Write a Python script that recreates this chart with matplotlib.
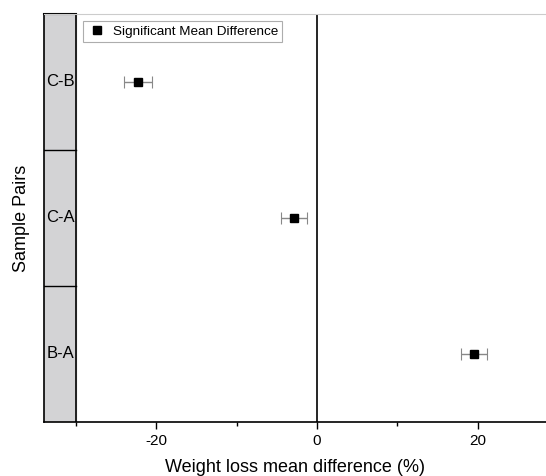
import numpy as np
import matplotlib.pyplot as plt
from matplotlib.ticker import FixedLocator

plt.rcParams['font.family'] = ['Liberation Sans', 'DejaVu Sans']
plt.rcParams['axes.unicode_minus'] = False

# pairs from bottom to top
pairs = ['B-A', 'C-A', 'C-B']
mean_diff = [19.5, -2.9, -22.3]
err = [1.6, 1.6, 1.7]

fig = plt.figure(figsize=(5.46, 4.76), dpi=100)
ax = fig.add_axes([44 / 546, 54 / 476, 1 - 44 / 546, 408 / 476])

ypos = np.arange(len(pairs)) + 0.5
ax.errorbar(mean_diff, ypos, xerr=err, fmt='none', ecolor='#888888',
            elinewidth=1, capsize=4, capthick=0.8, zorder=3)
ax.plot(mean_diff, ypos, 's', color='black', markersize=6, zorder=4,
        label='Significant Mean Difference')

ax.set_xlim(-34, 28.5)
ax.set_ylim(0, len(pairs))

# gray strip holding the pair labels
ax.axvspan(-34, -30, color='#d3d3d5', zorder=1)
ax.axvline(-30, color='black', lw=1.2, zorder=2)
for i in range(1, len(pairs)):
    ax.plot([-34, -30], [i, i], color='black', lw=1, zorder=2)
for y, p in zip(ypos, pairs):
    ax.text(-32, y, p, ha='center', va='center', fontsize=12)
ax.plot([-34, -30], [len(pairs), len(pairs)], color='black', lw=1.5, zorder=2, clip_on=False)

ax.axvline(0, color='black', lw=1.2, zorder=2)

ax.xaxis.set_major_locator(FixedLocator([-20, 0, 20]))
ax.xaxis.set_minor_locator(FixedLocator([-30, -10, 10]))
ax.tick_params(axis='x', which='major', length=5, width=1, labelsize=11, direction='out')
ax.tick_params(axis='x', which='minor', length=3, width=1, direction='out')
ax.set_yticks([])

ax.spines['right'].set_visible(False)
ax.spines['top'].set_color('#cccccc')
ax.spines['left'].set_linewidth(1.2)
ax.spines['bottom'].set_linewidth(1.2)

ax.set_xlabel('Weight loss mean difference (%)', fontsize=13, labelpad=8)
ax.set_ylabel('Sample Pairs', fontsize=13, labelpad=10)

leg = ax.legend(loc='upper left', bbox_to_anchor=(0.078, 0.982), fontsize=9.7,
                frameon=True, fancybox=False, edgecolor='#999999',
                borderpad=0.3, handletextpad=0.5, borderaxespad=0, handlelength=1.4)
leg.get_frame().set_linewidth(0.8)

fig.savefig('out.png', dpi=100)
